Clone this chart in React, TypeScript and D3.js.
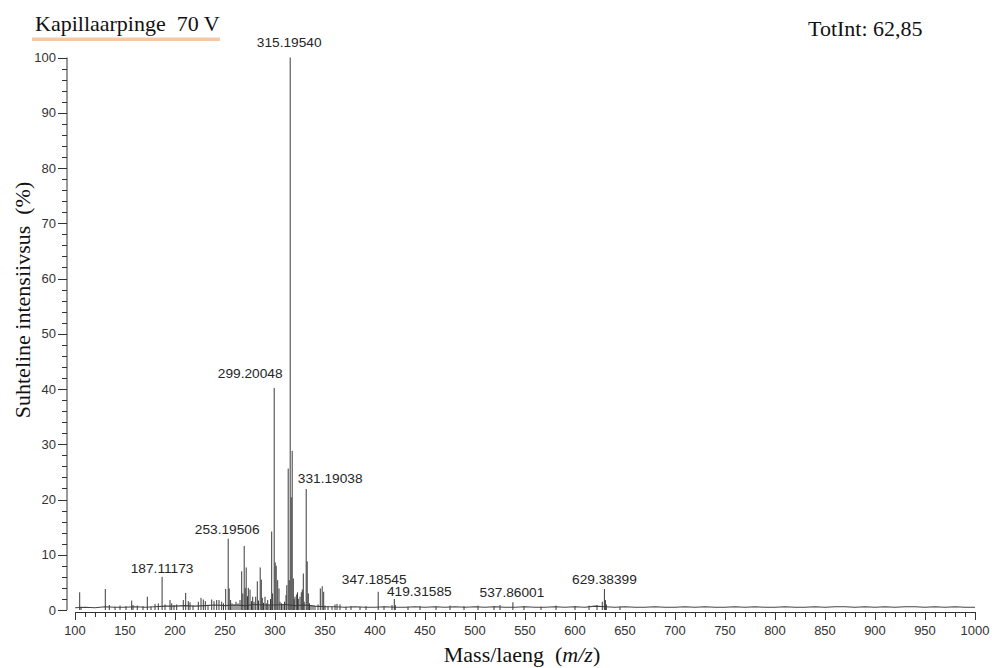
import React from "react";
import * as d3 from "d3";

// Centroid peaks: m/z and relative intensity (%)
const peakMz = [
  104.7, 106.0, 130.3, 134.3, 140.0, 145.0, 151.0, 156.7, 158.0, 162.3, 168.0, 172.3, 176.0, 180.0, 183.3,
  187.1, 190.0, 195.0, 196.7, 199.0, 201.7, 208.3, 210.7, 213.3, 215.0, 218.0, 223.3, 226.0, 228.3, 230.3,
  233.0, 236.7, 239.0, 241.7, 244.0, 246.7, 248.5, 250.7, 253.2, 254.2, 255.6, 257.0, 259.0, 261.0, 263.0,
  265.0, 266.7, 267.8, 269.2, 270.2, 271.2, 272.5, 273.3, 275.0, 276.5, 277.7, 279.0, 280.7, 282.3, 283.5,
  285.2, 286.3, 287.3, 288.5, 290.0, 291.3, 292.7, 294.0, 295.5, 296.7, 297.6, 299.2, 300.2, 301.2, 302.7,
  304.0, 305.0, 306.5, 308.0, 309.5, 311.0, 311.8, 313.2, 314.2, 315.2, 316.2, 317.2, 318.3, 319.2, 320.0,
  321.7, 322.5, 323.3, 325.0, 326.3, 327.3, 328.3, 329.2, 331.2, 332.2, 333.3, 334.5, 336.0, 338.0, 340.0,
  343.0, 345.3, 347.2, 348.7, 350.0, 353.0, 357.0, 360.0, 362.0, 365.0, 371.0, 376.0, 385.0, 391.0, 403.2,
  409.0, 417.0, 419.3, 420.3, 433.0, 445.0, 461.0, 475.0, 489.0, 503.0, 519.0, 525.0, 537.9, 549.0, 566.0,
  581.0, 600.0, 614.0, 622.0, 627.3, 629.4, 630.4, 631.4, 645.0,
];
const peakIntensity = [
  3.2, 0.6, 3.8, 0.9, 0.6, 0.8, 0.7, 1.7, 0.9, 0.8, 0.7, 2.4, 0.6, 1.1, 1.2,
  6.0, 1.0, 1.8, 1.2, 0.9, 1.0, 1.8, 3.1, 1.6, 1.4, 0.8, 1.5, 2.2, 1.9, 1.6,
  0.9, 1.9, 1.6, 1.8, 1.8, 1.5, 1.2, 3.8, 12.9, 3.9, 1.8, 1.2, 1.0, 1.5, 1.2,
  1.8, 7.0, 3.0, 11.6, 4.0, 7.7, 2.5, 4.0, 3.7, 1.6, 2.4, 1.5, 2.4, 5.2, 1.7,
  7.7, 5.5, 2.2, 1.3, 2.4, 1.2, 1.8, 1.0, 2.0, 14.2, 3.0, 40.2, 8.6, 8.0, 5.4,
  3.9, 1.5, 1.2, 1.0, 1.5, 2.7, 4.5, 25.6, 5.4, 100, 20.4, 28.8, 5.7, 2.0, 2.4,
  2.8, 3.2, 2.0, 2.4, 3.2, 3.7, 6.6, 1.5, 21.9, 8.8, 3.0, 1.2, 0.9, 0.8, 0.7,
  1.0, 3.9, 4.3, 3.3, 0.8, 0.7, 0.6, 1.0, 1.1, 1.0, 0.6, 0.7, 0.6, 0.7, 3.3,
  0.6, 0.9, 2.0, 0.9, 0.6, 0.7, 0.6, 0.8, 0.7, 0.8, 0.7, 0.9, 1.4, 0.7, 0.6,
  0.8, 0.7, 0.8, 0.9, 1.5, 3.8, 1.8, 1.0, 0.6,
];

// Annotated peaks
const labelMz = [315.2, 299.2, 331.2, 253.2, 187.1, 347.2, 419.3, 537.9, 629.4];
const labelText = [
  "315.19540", "299.20048", "331.19038", "253.19506", "187.11173",
  "347.18545", "419.31585", "537.86001", "629.38399",
];

// Baseline noise level (%), one value per 10 m/z from 100 to 1000
const noiseMzStart = 100;
const noiseMzStep = 10;
const noiseLevel = [
  0.4, 0.5, 0.4, 0.6, 0.5, 0.5, 0.6, 0.5, 0.6, 0.7,
  0.7, 0.8, 0.7, 0.8, 0.9, 0.8, 0.9, 0.8, 1.0, 0.9,
  0.9, 1.0, 0.8, 0.9, 0.7, 0.6, 0.6, 0.5, 0.6, 0.5,
  0.5, 0.6, 0.5, 0.5, 0.6, 0.5, 0.6, 0.5, 0.6, 0.5,
  0.6, 0.5, 0.6, 0.5, 0.5, 0.6, 0.5, 0.5, 0.6, 0.5,
  0.6, 0.5, 0.7, 0.6, 0.5, 0.6, 0.5, 0.5, 0.6, 0.5,
  0.5, 0.6, 0.5, 0.6, 0.5, 0.5, 0.6, 0.5, 0.6, 0.5,
  0.5, 0.6, 0.5, 0.5, 0.6, 0.5, 0.6, 0.6, 0.5, 0.6,
  0.5, 0.6, 0.5, 0.6, 0.6, 0.5, 0.6, 0.5, 0.6, 0.5,
  0.5,
];

const xTicksMajor = d3.range(100, 1001, 50);
const xTicksMinor = d3.range(100, 1001, 10);
const yTicksMajor = d3.range(0, 101, 10);
const yTicksMinor = d3.range(0, 101, 2);

const title = "Kapillaarpinge  70 V";
const totalIntensity = "TotInt: 62,85";

// Label placement relative to the peak top: [dx, dy] in px
const labelOffset: [number, number][] = [
  [-1, -11], [-24, -10], [24, -6], [-1, -5], [0, -4],
  [52, -2], [25, -3], [-1, -5], [0, -5],
];

const W = 992;
const H = 668;
const sans = "'Liberation Sans', Arial, sans-serif";
const serif = "'Liberation Serif', 'Times New Roman', serif";
const ink = "#333";

export default function App() {
  const x = d3.scaleLinear().domain([100, 1000]).range([75, 975]);
  const y = d3.scaleLinear().domain([0, 100]).range([610, 57.5]);
  const axisY = 612;
  const yAxisX = 67;

  const noisePts: [number, number][] = noiseLevel.map((v, i) => [noiseMzStart + i * noiseMzStep, v]);
  const noiseLine = d3
    .line<[number, number]>()
    .x((d) => x(d[0]))
    .y((d) => y(d[1]))
    .curve(d3.curveLinear)(noisePts);

  return (
    <svg
      width={W}
      height={H}
      viewBox={`0 0 ${W} ${H}`}
      style={{ position: "absolute", left: 0, top: 0, background: "#fff" }}
    >
      <rect width={W} height={H} fill="#fff" />

      {/* Title with underline */}
      <text x={35} y={31} fontFamily={serif} fontSize={22} fill="#111" style={{ whiteSpace: "pre" }}>
        {title}
      </text>
      <rect x={32} y={37.5} width={188} height={3.5} fill="#f6c7a4" />
      <text x={808} y={36} fontFamily={serif} fontSize={22} fill="#111">
        {totalIntensity}
      </text>

      {/* Y axis */}
      <line x1={yAxisX} x2={yAxisX} y1={y(100)} y2={y(0)} stroke={ink} strokeWidth={1} />
      {yTicksMinor.map((t) => (
        <line
          key={"ym" + t}
          x1={yAxisX - (t % 10 === 0 ? 9 : 5)}
          x2={yAxisX}
          y1={Math.round(y(t)) + 0.5}
          y2={Math.round(y(t)) + 0.5}
          stroke={ink}
          strokeWidth={1}
        />
      ))}
      {yTicksMajor.map((t) => (
        <text
          key={"yl" + t}
          x={56}
          y={y(t)}
          dy="0.35em"
          textAnchor="end"
          fontFamily={sans}
          fontSize={13}
          fill="#333"
        >
          {t}
        </text>
      ))}

      {/* X axis */}
      <line x1={x(100)} x2={x(1000)} y1={axisY + 0.5} y2={axisY + 0.5} stroke={ink} strokeWidth={1} />
      {xTicksMinor.map((t) => (
        <line
          key={"xm" + t}
          x1={Math.round(x(t)) + 0.5}
          x2={Math.round(x(t)) + 0.5}
          y1={axisY}
          y2={axisY + (t % 50 === 0 ? 8 : 5)}
          stroke={ink}
          strokeWidth={1}
        />
      ))}
      {xTicksMajor.map((t) => (
        <text
          key={"xl" + t}
          x={x(t)}
          y={635}
          textAnchor="middle"
          fontFamily={sans}
          fontSize={13}
          fill="#333"
        >
          {t}
        </text>
      ))}

      {/* Axis titles */}
      <text
        transform={`translate(30, 300) rotate(-90)`}
        textAnchor="middle"
        fontFamily={serif}
        fontSize={22}
        fill="#111"
        style={{ whiteSpace: "pre" }}
      >
        {"Suhteline intensiivsus  (%)"}
      </text>
      <text x={522} y={662} textAnchor="middle" fontFamily={serif} fontSize={22} fill="#111" style={{ whiteSpace: "pre" }}>
        {"Mass/laeng  ("}
        <tspan fontStyle="italic">m/z</tspan>
        {")"}
      </text>

      {/* Baseline noise */}
      <path d={noiseLine ?? ""} fill="none" stroke="#444" strokeWidth={1.1} />

      {/* Peaks */}
      {peakMz.map((m, i) => (
        <line
          key={"p" + i}
          x1={x(m)}
          x2={x(m)}
          y1={y(0)}
          y2={y(peakIntensity[i])}
          stroke="#3a3a3a"
          strokeWidth={1}
        />
      ))}

      {/* Peak annotations */}
      {labelMz.map((m, i) => {
        const idx = peakMz.findIndex((p) => Math.abs(p - m) < 0.05);
        const v = idx >= 0 ? peakIntensity[idx] : 0;
        const [dx, dy] = labelOffset[i];
        return (
          <text
            key={"lab" + i}
            x={x(m) + dx}
            y={y(v) + dy}
            textAnchor="middle"
            fontFamily={sans}
            fontSize={13.7}
            fill="#262626"
          >
            {labelText[i]}
          </text>
        );
      })}
    </svg>
  );
}
